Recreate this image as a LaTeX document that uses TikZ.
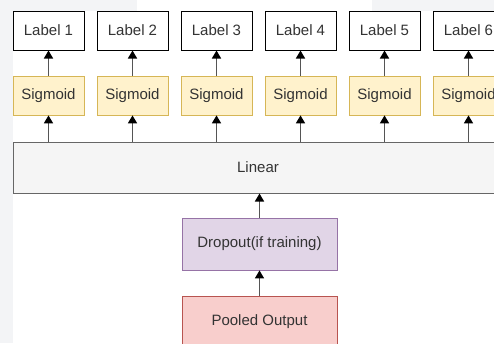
\documentclass[tikz,border=0pt]{standalone}
\usepackage{fontspec}
\setmainfont{Liberation Sans}
\usetikzlibrary{arrows.meta}
\definecolor{bggray}{HTML}{F3F4F6}
\definecolor{txt}{HTML}{333333}
\definecolor{HTML_D6B656}{HTML}{D6B656}
\definecolor{HTML_FFF2CC}{HTML}{FFF2CC}
\definecolor{HTML_666666}{HTML}{666666}
\definecolor{HTML_F5F5F5}{HTML}{F5F5F5}
\definecolor{HTML_9673A6}{HTML}{9673A6}
\definecolor{HTML_E1D5E7}{HTML}{E1D5E7}
\definecolor{HTML_B85450}{HTML}{B85450}
\definecolor{HTML_F8CECC}{HTML}{F8CECC}
\definecolor{HTML_555555}{HTML}{555555}
\tikzset{
  every node/.style={font=\fontsize{15}{17}\selectfont, text=txt},
  labelbox/.style={draw=black, fill=white, line width=1pt, minimum width=71pt, minimum height=39pt, inner sep=0pt},
  sigbox/.style={draw=HTML_D6B656, fill=HTML_FFF2CC, line width=0.7pt, minimum width=71pt, minimum height=39pt, inner sep=0pt},
  linbox/.style={draw=HTML_666666, fill=HTML_F5F5F5, line width=1pt, minimum width=490pt, minimum height=51pt, inner sep=0pt},
  dropbox/.style={draw=HTML_9673A6, fill=HTML_E1D5E7, line width=0.8pt, minimum width=155pt, minimum height=52pt, inner sep=0pt},
  poolbox/.style={draw=HTML_B85450, fill=HTML_F8CECC, line width=0.8pt, minimum width=155pt, minimum height=52pt, inner sep=0pt},
  conn/.style={draw=HTML_555555, line width=1.5pt, -{Triangle[length=8pt,width=9pt,fill=black,color=black]}},
}
\begin{document}
\begin{tikzpicture}[x=1pt,y=-1pt]
\useasboundingbox (0,0) rectangle (494,343);
\clip (0,0) rectangle (494,343);
\fill[white] (0,0) rectangle (494,343);
\fill[bggray] (0,0) rectangle (13,343);
\fill[bggray] (0,0) rectangle (137,11);
\fill[bggray] (372,0) rectangle (494,11);
% nodes
\foreach \i/\x in {1/48.5,2/132.5,3/216.5,4/300.5,5/384.5,6/468.5}{
  \node[labelbox] (l\i) at (\x,30.5) {Label \i};
  \node[sigbox] (s\i) at (\x,95.5) {Sigmoid};
}
\node[linbox] (lin) at (258,167.5) {Linear};
\node[dropbox] (drop) at (259.5,244) {Dropout(if training)};
\node[poolbox] (pool) at (259.5,322) {Pooled Output};
% connectors
\foreach \i in {1,...,6}{
  \draw[conn] (lin.north -| s\i.south) -- (s\i.south);
  \draw[conn] (s\i.north) -- (l\i.south);
}
\draw[conn] (drop.north) -- (drop.north |- lin.south);
\draw[conn] (pool.north) -- (drop.south);
\end{tikzpicture}
\end{document}
